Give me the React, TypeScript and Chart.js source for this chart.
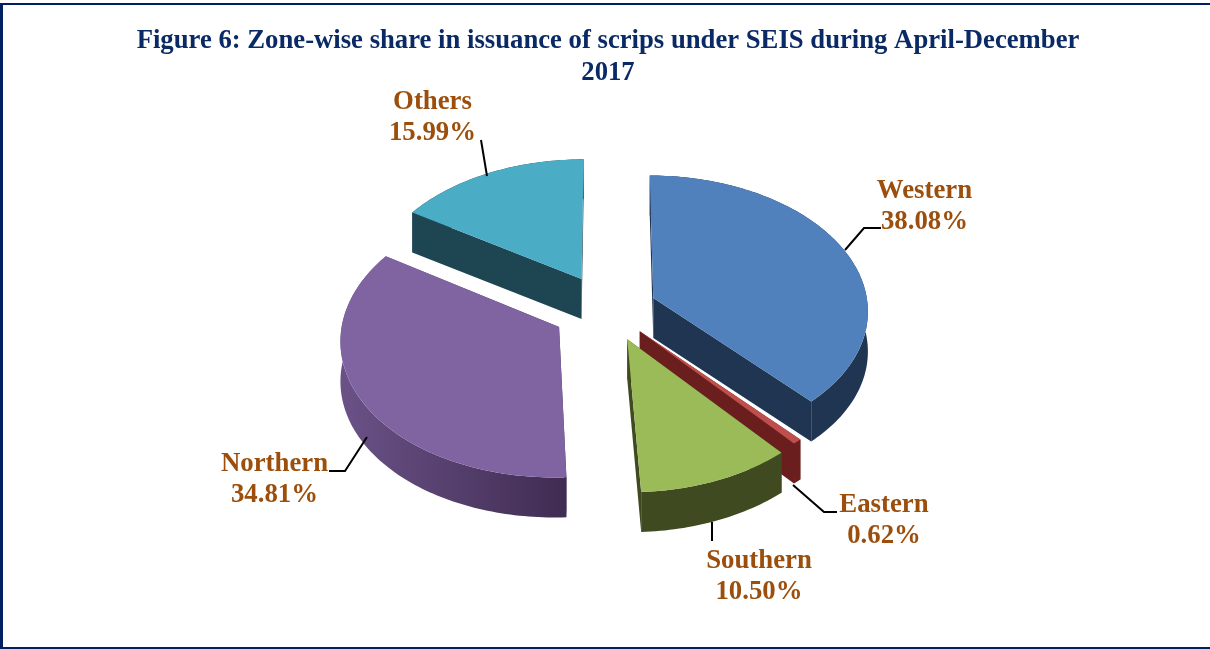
import React, { useEffect, useRef } from "react";
import { Chart, registerables } from "chart.js";

Chart.register(...registerables);

const titleLines = ["Figure 6: Zone-wise share in issuance of scrips under SEIS during April-December", "2017"];
const categories = ["Western", "Eastern", "Southern", "Northern", "Others"];
const shares = [38.08, 0.62, 10.5, 34.81, 15.99];
const topColors = ["#5081BD", "#BE4F4C", "#9BBB59", "#8064A2", "#4BACC6"];
const wallColors = ["#1F3552", "#6A1F1E", "#3F4A20", "#6A5287", "#1E4552"];
const wallEndColors = ["#1F3552", "#6A1F1E", "#3F4A20", "#402C52", "#1E4552"];
const explode = [196, 188, 204, 224, 224];
const drawOrder = [4, 0, 3, 1, 2];
const labelCentres = [[924.5, 207], [884, 521], [759, 577], [274.5, 480], [432.5, 118]];
const leaders = [
  [[881, 228], [864, 228], [845, 250]],
  [[837, 512], [824, 512], [793, 485]],
  [[712, 541], [712, 522]],
  [[329, 471], [345, 471], [367, 437]],
  [[481, 140], [487, 176]],
];

const TILT = 0.626;
const PERSPECTIVE = 0.085;
const DEPTH = 40;
const SERIF = '"Liberation Serif", "Times New Roman", serif';

const pie3d = {
  id: "pie3d",
  beforeDatasetDraw(chart: any) {
    const ctx = chart.ctx;
    const arcs = chart.getDatasetMeta(0).data;
    const project = (arc: any, px: number, py: number) => {
      const v = py / arc.outerRadius;
      const s = 1 / (1 - PERSPECTIVE * v);
      return [arc.x + px * s, arc.y + py * TILT * s];
    };
    const fillPoly = (pts: number[][]) => {
      ctx.beginPath();
      pts.forEach((p, k) => (k ? ctx.lineTo(p[0], p[1]) : ctx.moveTo(p[0], p[1])));
      ctx.closePath();
      ctx.fill();
    };
    const down = (p: number[]) => [p[0], p[1] + DEPTH];
    drawOrder.forEach((i) => {
      const arc = arcs[i];
      const R = arc.outerRadius;
      const mid = (arc.startAngle + arc.endAngle) / 2;
      const d = (arc.options.offset || 0) / 4;
      const ox = Math.cos(mid) * d;
      const oy = Math.sin(mid) * d;
      const rim: number[][] = [];
      const steps = Math.max(4, Math.ceil((arc.endAngle - arc.startAngle) / 0.02));
      for (let k = 0; k <= steps; k++) {
        const a = arc.startAngle + ((arc.endAngle - arc.startAngle) * k) / steps;
        rim.push(project(arc, ox + R * Math.cos(a), oy + R * Math.sin(a)));
      }
      const apex = project(arc, ox, oy);
      const outline = [apex, ...rim];
      const xs = outline.map((p) => p[0]);
      const grad = ctx.createLinearGradient(Math.min(...xs), 0, Math.max(...xs), 0);
      grad.addColorStop(0, wallColors[i]);
      grad.addColorStop(1, wallEndColors[i]);
      ctx.fillStyle = grad;
      fillPoly([apex, rim[0], down(rim[0]), down(apex)]);
      fillPoly([apex, rim[rim.length - 1], down(rim[rim.length - 1]), down(apex)]);
      fillPoly([...rim, ...rim.slice().reverse().map(down)]);
      ctx.fillStyle = arc.options.backgroundColor;
      fillPoly(outline);
    });
    return false;
  },
  afterDraw(chart: any) {
    const ctx = chart.ctx;
    ctx.save();
    ctx.strokeStyle = "#000000";
    ctx.lineWidth = 2;
    leaders.forEach((line) => {
      ctx.beginPath();
      line.forEach((p, k) => (k ? ctx.lineTo(p[0], p[1]) : ctx.moveTo(p[0], p[1])));
      ctx.stroke();
    });
    ctx.fillStyle = "#9C4F0C";
    ctx.font = `bold 26.8px ${SERIF}`;
    ctx.textAlign = "center";
    ctx.textBaseline = "middle";
    categories.forEach((name, i) => {
      const [x, y] = labelCentres[i];
      ctx.fillText(name, x, y - 15.5);
      ctx.fillText(`${shares[i].toFixed(2)}%`, x, y + 15.5);
    });
    ctx.restore();
  },
};

export default function App() {
  const ref = useRef<HTMLCanvasElement>(null);
  useEffect(() => {
    const chart = new Chart(ref.current!, {
      type: "pie",
      data: {
        labels: categories,
        datasets: [{ data: shares, backgroundColor: topColors, borderWidth: 0, offset: explode }],
      },
      options: {
        responsive: false,
        animation: false,
        radius: 215,
        layout: { padding: { left: 6, right: 0, top: 0, bottom: 122 } },
        plugins: {
          legend: { display: false },
          tooltip: { enabled: false },
          title: {
            display: true,
            text: titleLines,
            color: "#0A2A66",
            font: { family: SERIF, size: 26.7, weight: "bold", lineHeight: 1.2 },
            padding: { top: 25, bottom: 2 },
          },
        },
      } as any,
      plugins: [pie3d],
    });
    return () => chart.destroy();
  }, []);
  return (
    <div style={{ position: "absolute", left: 0, top: 0, width: 1210, height: 649, background: "#fff", overflow: "hidden" }}>
      <canvas ref={ref} width={1210} height={649} style={{ position: "absolute", left: 0, top: 0, display: "block" }} />
      <div style={{ position: "absolute", left: 0, top: 3, width: 1210, height: 2, background: "#00205F" }} />
      <div style={{ position: "absolute", left: 0, top: 3, width: 3, height: 646, background: "#00205F" }} />
      <div style={{ position: "absolute", left: 0, top: 647, width: 1210, height: 2, background: "#00205F" }} />
    </div>
  );
}
